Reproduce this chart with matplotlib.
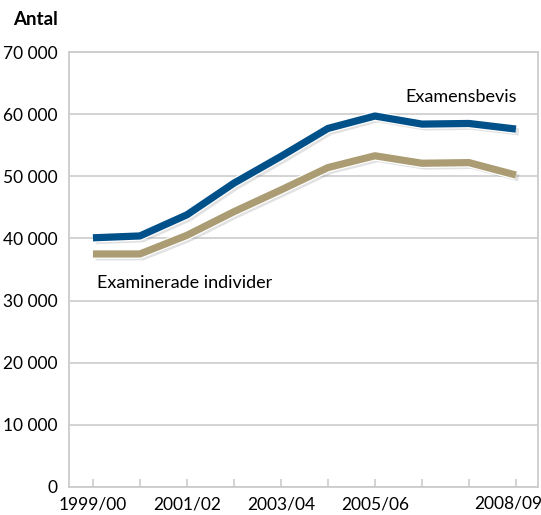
import matplotlib.pyplot as plt
import matplotlib.patheffects as pe

plt.rcParams['font.family'] = ['Lato', 'DejaVu Sans']

years = ['1999/00', '2000/01', '2001/02', '2002/03', '2003/04',
         '2004/05', '2005/06', '2006/07', '2007/08', '2008/09']
examensbevis = [40100, 40400, 43800, 48900, 53200, 57700, 59700, 58400, 58500, 57600]
individer = [37500, 37500, 40500, 44300, 47800, 51400, 53300, 52100, 52200, 50200]
shown_labels = ['1999/00', '', '2001/02', '', '2003/04', '', '2005/06', '', '', '']
last_label = years[-1]
y_ticks = [0, 10000, 20000, 30000, 40000, 50000, 60000, 70000]

blue = '#00508a'
tan = '#ab9c73'
grid_col = '#cccccc'

fig = plt.figure(figsize=(5.41, 5.15), dpi=100)
ax = fig.add_axes([0.1275, 0.0544, 0.867, 0.8446])

x = list(range(len(years)))
effects = [pe.SimpleLineShadow(offset=(2, -2), shadow_color='#888888', alpha=0.25),
           pe.Stroke(linewidth=7.0, foreground='white'),
           pe.Normal()]

ax.plot(x, individer, color=tan, lw=5.2, solid_capstyle='butt', path_effects=effects, zorder=3)
ax.plot(x, examensbevis, color=blue, lw=5.2, solid_capstyle='butt', path_effects=effects, zorder=4)

ax.set_xlim(-0.51, 9.47)
ax.set_ylim(0, 70000)
ax.set_yticks(y_ticks)
ax.set_yticklabels([f'{v:,}'.replace(',', ' ') for v in y_ticks], fontsize=12.5)
ax.set_xticks(x)
ax.set_xticklabels(shown_labels, fontsize=12.5)
# last label is nudged left so it stays inside the figure
ax.annotate(last_label, xy=(x[-1], 0), xycoords=('data', 'axes fraction'),
            xytext=(-5.5, -6.2), textcoords='offset points',
            ha='center', va='top', fontsize=12.5)

ax.grid(axis='y', color=grid_col, lw=1.2)
ax.set_axisbelow(True)
for s in ax.spines.values():
    s.set_color(grid_col)
    s.set_linewidth(1.3)
ax.tick_params(axis='x', direction='in', length=6, width=1.2, color=grid_col, pad=7)
ax.tick_params(axis='y', length=0, pad=8)

fig.text(0.024, 0.963, 'Antal', fontsize=13.5, fontweight='bold', va='center')
ax.text(7.83, 62800, 'Examensbevis', fontsize=13, ha='center', va='center')
ax.text(0.08, 32850, 'Examinerade individer', fontsize=13, ha='left', va='center')

plt.savefig('out.png', dpi=100)
